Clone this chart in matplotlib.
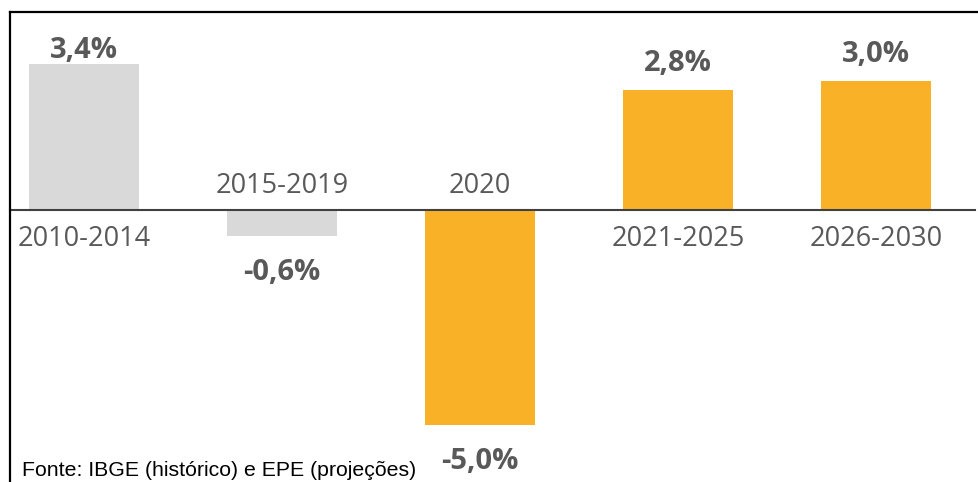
import matplotlib
matplotlib.use("Agg")
import matplotlib.pyplot as plt
from matplotlib.lines import Line2D

periods = ["2010-2014", "2015-2019", "2020", "2021-2025", "2026-2030"]
growth = [3.4, -0.6, -5.0, 2.8, 3.0]
labels = ["3,4%", "-0,6%", "-5,0%", "2,8%", "3,0%"]
projected = [False, False, True, True, True]
source = "Fonte: IBGE (histórico) e EPE (projeções)"

GREY = "#D9D9D9"
ORANGE = "#F9B128"
TXT = "#595959"

W, H = 979, 482
fig = plt.figure(figsize=(W / 100, H / 100), dpi=100)
ax = fig.add_axes([0, 0, 1, 1])

# pixel layout: first bar centre 84px, step 198px, zero line at 210px, 43px per unit
step, x0 = 198.0, 84.0
ppu, y0 = 43.0, 210.0
ax.set_xlim(-x0 / step, (W - x0) / step)
ax.set_ylim(-(H - y0) / ppu, y0 / ppu)
ax.axis("off")

xs = list(range(len(periods)))
colors = [ORANGE if p else GREY for p in projected]
ax.bar(xs, growth, width=110 / step, color=colors, zorder=2)

# zero line
ax.plot([(10 - x0) / step, (975 - x0) / step], [0, 0], color="#404040", lw=1.5, zorder=3)

fnt = "Open Sans"
for x, v, lab in zip(xs, growth, labels):
    if v >= 0:
        yv = min(v + 19 / ppu, (y0 - 58) / ppu)
        yc = -36 / ppu
    else:
        yv = v - 44 / ppu
        yc = 17 / ppu
    ax.text(x, yv, lab, ha="center", va="baseline", fontsize=21,
            fontweight="bold", color=TXT, family=fnt)
    ax.text(x, yc, periods[x], ha="center", va="baseline", fontsize=19.5,
            color=TXT, family=fnt)

# frame (left + top)
fig.add_artist(Line2D([10 / W, 10 / W], [0, 1 - 12 / H], color="black", lw=1.6))
fig.add_artist(Line2D([10 / W, 1], [1 - 12 / H, 1 - 12 / H], color="black", lw=1.6))

fig.text(22 / W, 1 - 476 / H, source, ha="left", va="baseline", fontsize=15.3,
         family="Liberation Sans", color="black")

fig.savefig("out.png", dpi=100)
